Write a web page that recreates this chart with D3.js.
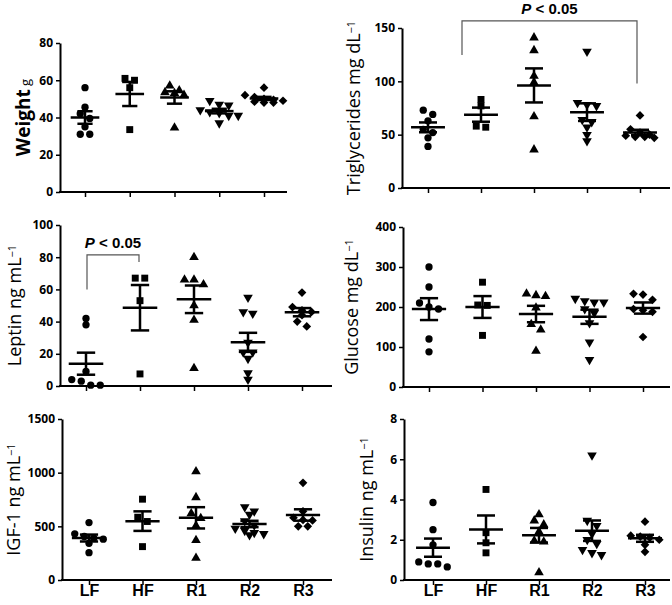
<!DOCTYPE html>
<html>
<head>
<meta charset="utf-8">
<script src="https://cdn.jsdelivr.net/npm/d3@7"></script>
<style>
  body { margin: 0; background: #fff; }
  svg { display: block; }
  .tick text { font-family: "Open Sans", sans-serif; font-weight: 700; font-size: 12px; fill: #000; }
</style>
</head>
<body>
<svg width="672" height="605"></svg>
<script>
const groups = ['LF', 'HF', 'R1', 'R2', 'R3'];

// one array per group
const weight = [
  [56, 45.5, 42, 39.5, 35, 31, 31],
  [61, 60, 56, 33.5],
  [57, 54.5, 53.5, 53, 52, 34.5],
  [49, 47, 46.5, 44, 43, 42.5, 41, 41, 37],
  [56, 52, 51, 50, 49.5, 49, 48.5, 48, 48]
];
const triglycerides = [
  [73, 69, 63, 55, 52, 47, 39],
  [83, 77, 58, 57],
  [141, 129, 105, 99, 67, 36],
  [128, 80, 78, 77, 64, 62, 57, 50, 44],
  [68, 55, 52, 50, 49, 48, 48, 47]
];
const leptin = [
  [42, 38, 9, 4, 3, 0.5, 0.5],
  [67, 67, 53, 7.5],
  [80, 66, 66, 63, 50, 41, 11],
  [55, 46, 45, 27, 21, 21, 17, 8, 4],
  [58, 49, 47, 46, 44, 40, 37]
];
const glucose = [
  [300, 250, 210, 200, 195, 120, 88],
  [262, 205, 204, 129],
  [233, 229, 227, 198, 157, 143, 90],
  [221, 215, 212, 212, 195, 185, 160, 112, 68],
  [233, 231, 218, 195, 192, 188, 125]
];
const igf1 = [
  [535, 430, 405, 390, 380, 342, 255],
  [753, 585, 545, 311],
  [1010, 770, 620, 575, 505, 370, 205],
  [680, 640, 610, 550, 510, 480, 460, 440, 430, 420],
  [905, 640, 580, 560, 555, 500, 500]
];
const insulin = [
  [3.85, 2.5, 1.75, 0.9, 0.8, 0.8, 0.65],
  [4.5, 2.35, 1.85, 1.35],
  [3.25, 2.95, 2.75, 2.4, 1.95, 1.9, 0.37],
  [6.2, 2.95, 2.7, 2.3, 2.0, 1.8, 1.5, 1.35, 1.25],
  [2.9, 2.2, 2.15, 2.1, 2.0, 1.75, 1.4]
];

const panels = [
  {data: weight, name: 'Weight', unit: 'g', sup: '', bold: true, ticks: [0, 20, 40, 60, 80],
   left: 60, right: 287, top: 43, bottom: 192, x0: 85, x1: 264, labDx: 30},
  {data: triglycerides, name: 'Triglycerides', unit: 'mg dL', sup: '−1', ticks: [0, 50, 100, 150],
   left: 402, right: 670, top: 28, bottom: 188, x0: 428, x1: 640, labDx: 42,
   bracket: {from: 'HF', fromDx: -19, to: 'R3', toDx: -3, top: 156.6, fromEnd: 124.7, toEnd: 98}},
  {data: leptin, name: 'Leptin', unit: 'ng mL', sup: '−1', ticks: [0, 20, 40, 60, 80, 100],
   left: 60, right: 332, top: 225, bottom: 386, x0: 86, x1: 302, labDx: 39,
   bracket: {from: 'LF', fromDx: 1, to: 'HF', toDx: -1, top: 81.4, fromEnd: 60, toEnd: 77}},
  {data: glucose, name: 'Glucose', unit: 'mg dL', sup: '−1', ticks: [0, 100, 200, 300, 400],
   left: 403, right: 670, top: 227, bottom: 387, x0: 429, x1: 643, labDx: 45},
  {data: igf1, name: 'IGF-1', unit: 'ng mL', sup: '−1', ticks: [0, 500, 1000, 1500], xLabels: true,
   left: 62, right: 332, top: 419, bottom: 580, x0: 89, x1: 303, labDx: 42},
  {data: insulin, name: 'Insulin', unit: 'ng mL', sup: '−1', ticks: [0, 2, 4, 6, 8], xLabels: true,
   left: 404, right: 670, top: 419, bottom: 580, x0: 433, x1: 645, labDx: 31}
];

const shapes = {
  LF: {type: d3.symbolCircle, size: 42, rot: 0},
  HF: {type: d3.symbolSquare, size: 48, rot: 0},
  R1: {type: d3.symbolTriangle, size: 40, rot: 0},
  R2: {type: d3.symbolTriangle, size: 40, rot: 180},
  R3: {type: d3.symbolSquare, size: 38, rot: 45}
};

const svg = d3.select('svg');

// spread points that sit at about the same height, like a column scatter
function dodge(vals, y, cx) {
  const pts = vals.map(v => ({v: v, py: y(v)})).sort((a, b) => a.py - b.py);
  const rows = [];
  let cur = [];
  pts.forEach(p => {
    if (cur.length && p.py - cur[0].py > 6) { rows.push(cur); cur = []; }
    cur.push(p);
  });
  if (cur.length) rows.push(cur);
  rows.forEach(r => r.forEach((p, i) => { p.px = cx + (i - (r.length - 1) / 2) * 9.5; }));
  return pts;
}

panels.forEach(p => {
  const g = svg.append('g');
  const y = d3.scaleLinear().domain([0, d3.max(p.ticks)]).range([p.bottom, p.top]);
  const x = d3.scalePoint().domain(groups).range([p.x0, p.x1]);
  const step = x.step();

  // y axis
  const ya = g.append('g').attr('transform', `translate(${p.left},0)`)
    .call(d3.axisLeft(y).tickValues(p.ticks).tickFormat(d => d)
      .tickSize(4).tickSizeOuter(0).tickPadding(3));
  ya.select('.domain').attr('stroke-width', 2);
  ya.selectAll('.tick line').attr('stroke-width', 1.5);

  // x axis
  const xa = g.append('g').attr('transform', `translate(0,${p.bottom})`)
    .call(d3.axisBottom(x).tickSize(5).tickPadding(0));
  xa.select('.domain').remove();
  xa.selectAll('.tick line').attr('stroke-width', 1.5);
  if (!p.xLabels) xa.selectAll('.tick text').remove();
  xa.selectAll('.tick text').style('font-family', '"Liberation Sans", Arial, sans-serif')
    .style('font-size', '16px');
  g.append('line').attr('x1', p.left - 1).attr('x2', p.right)
    .attr('y1', p.bottom).attr('y2', p.bottom).attr('stroke', '#000').attr('stroke-width', 2);

  // y label
  const lab = g.append('text')
    .attr('transform', `translate(${p.left - p.labDx},${(p.top + p.bottom) / 2}) rotate(-90)`)
    .attr('text-anchor', 'middle')
    .style('font-family', '"Open Sans", sans-serif').style('font-size', '18px');
  lab.append('tspan').text(p.name).style('font-weight', p.bold ? 700 : 400)
    .style('font-size', p.bold ? '19px' : '18px');
  lab.append('tspan').text(' ' + p.unit).style('font-size', p.bold ? '13px' : '18px');
  if (p.sup) lab.append('tspan').text(p.sup).attr('dy', '-0.45em').style('font-size', '11px');

  // points
  groups.forEach((grp, gi) => {
    const vals = p.data[gi];
    const cx = x(grp);
    const sh = shapes[grp];
    g.append('g').selectAll('path')
      .data(dodge(vals, y, cx))
      .join('path')
      .attr('d', d3.symbol(sh.type, sh.size))
      .attr('transform', d => `translate(${d.px},${d.py}) rotate(${sh.rot})`)
      .attr('fill', '#000');

    // mean and SEM
    const m = d3.mean(vals);
    const sem = d3.deviation(vals) / Math.sqrt(vals.length);
    const wM = step * 0.32, wC = step * 0.17;
    const bars = [
      [cx - wM, y(m), cx + wM, y(m)],
      [cx - wC, y(m + sem), cx + wC, y(m + sem)],
      [cx - wC, y(m - sem), cx + wC, y(m - sem)],
      [cx, y(m + sem), cx, y(m - sem)]
    ];
    g.append('g').selectAll('line').data(bars).join('line')
      .attr('x1', d => d[0]).attr('y1', d => d[1])
      .attr('x2', d => d[2]).attr('y2', d => d[3])
      .attr('stroke', '#000').attr('stroke-width', 2.5);
  });

  // significance bracket
  if (p.bracket) {
    const b = p.bracket;
    const xa1 = x(b.from) + b.fromDx, xa2 = x(b.to) + b.toDx;
    g.append('path')
      .attr('d', `M${xa1},${y(b.fromEnd)}V${y(b.top)}H${xa2}V${y(b.toEnd)}`)
      .attr('fill', 'none').attr('stroke', '#555').attr('stroke-width', 1.2);
    const t = g.append('text')
      .attr('x', (xa1 + xa2) / 2).attr('y', y(b.top) - 7)
      .attr('text-anchor', 'middle')
      .style('font-family', '"Liberation Sans", Arial, sans-serif')
      .style('font-size', '15px').style('font-weight', 700);
    t.append('tspan').text('P').style('font-style', 'italic');
    t.append('tspan').text(' < 0.05');
  }
});
</script>
</body>
</html>
